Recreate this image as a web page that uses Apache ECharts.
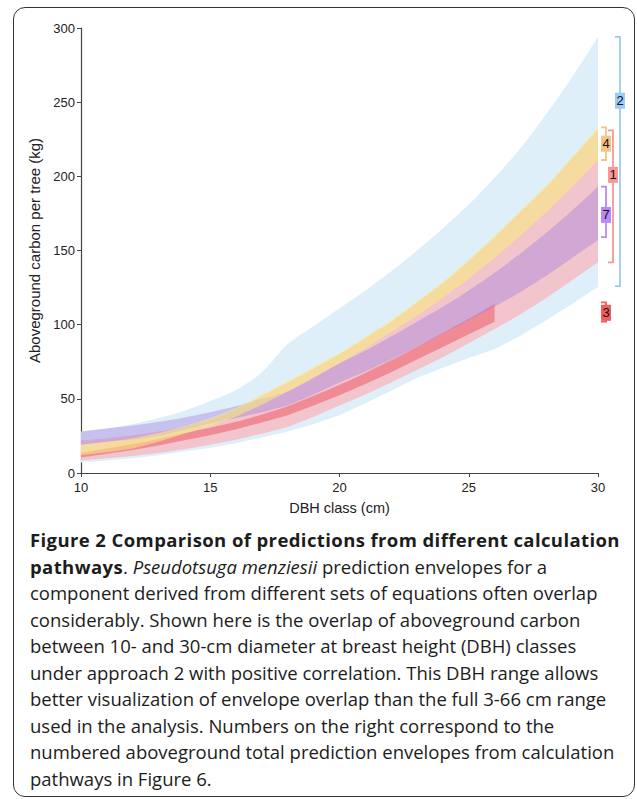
<!DOCTYPE html>
<html>
<head>
<meta charset="utf-8">
<script src="https://cdn.jsdelivr.net/npm/echarts@6.0.0/dist/echarts.min.js"></script>
<style>
  body { margin: 0; background: #fff; }
  #chart { position: absolute; left: 0; top: 0; width: 637px; height: 799px; }
  #frame { position: absolute; left: 13px; top: 7px; width: 620px; height: 788px;
           border: 1.5px solid #333; border-radius: 12px; pointer-events: none; }
  #caption { position: absolute; left: 30px; top: 527px; font-family: "Open Sans", sans-serif;
             font-size: 18.5px; line-height: 26.5px; color: #1c1c1c; white-space: nowrap; }
  #caption b { letter-spacing: 0.4px; }
</style>
</head>
<body>
<div id="chart"></div>
<div id="frame"></div>
<div id="caption">
  <b>Figure 2 Comparison of predictions from different calculation</b><br>
  <b>pathways</b>. <i>Pseudotsuga menziesii</i> prediction envelopes for a<br>
  component derived from different sets of equations often overlap<br>
  considerably. Shown here is the overlap of aboveground carbon<br>
  between 10- and 30-cm diameter at breast height (DBH) classes<br>
  under approach 2 with positive correlation. This DBH range allows<br>
  better visualization of envelope overlap than the full 3-66 cm range<br>
  used in the analysis. Numbers on the right correspond to the<br>
  numbered aboveground total prediction envelopes from calculation<br>
  pathways in Figure 6.
</div>
<script>
// DBH classes (cm)
var dbh = [10, 11, 12, 13, 14, 15, 16, 17, 18, 19, 20, 21, 22, 23, 24, 25, 26, 27, 28, 29, 30];

// envelope 2 (blue)
var env2Low  = [7, 8.5, 10, 12, 14.5, 17, 20, 24, 28, 33, 39, 47, 55.5, 64, 71, 77.5, 83.5, 92.5, 103, 114, 125.5];
var env2High = [28, 30, 33, 37, 42, 48.5, 56, 68, 87, 99, 111, 123, 136, 150, 165, 181, 199, 219, 242, 267, 294];
// envelope 1 (pink)
var env1Low  = [8.5, 10, 11.5, 13.5, 16, 19, 22.5, 26.5, 31, 38, 45.5, 53, 61, 69.5, 78, 87.5, 97, 107, 118, 130, 142];
var env1High = [22, 23.5, 25.5, 28, 31, 36, 43, 52, 61, 70.5, 80, 91, 102, 115, 128, 143, 159, 176, 193, 212, 231.5];
// envelope 3 (red), stops at 26 cm
var env3Low  = [10.5, 13, 15.5, 18.5, 22, 25.5, 29.5, 34, 39, 45.5, 52.5, 60, 68, 76.5, 85, 93.5, 102];
var env3High = [13.5, 16.5, 19.5, 23, 27, 30.5, 34.5, 39.5, 45, 52, 59.5, 67.5, 76, 85, 94.5, 104, 114];
// envelope 7 (purple)
var env7Low  = [19, 21, 22.5, 25, 29, 33.5, 37, 41, 45.5, 53, 61, 68.5, 76.5, 85, 94, 103, 112, 122, 133, 145, 157];
var env7High = [28, 30, 32, 34.5, 37.5, 41, 45, 50, 55, 64, 74, 82.5, 92, 102, 112, 123, 135, 148, 162, 177, 193];
// envelope 4 (yellow)
var env4Low  = [12, 14, 16.5, 21, 26.5, 31.5, 38, 46, 55, 64.5, 74, 84, 95, 106, 118, 131, 145, 160, 176, 193, 211];
var env4High = [19, 21, 23.5, 27, 31.5, 37, 44, 53, 62, 71.5, 81, 92, 103, 116, 129, 144, 160, 177, 194, 213, 233];

// right-hand brackets
var bracketNames = ['2', '1', '4', '7', '3'];
var bracketLow   = [126, 142, 211, 159, 102];
var bracketHigh  = [294, 231, 233, 193, 115];
var bracketLabel = [251, 201, 222, 174, 108];

var axisFont = '"Liberation Sans", Arial, sans-serif';

function diffs(lo, hi) {
    return hi.map(function (v, i) { return v - lo[i]; });
}

// an envelope = invisible lower line + stacked filled thickness
function band(name, lo, hi, color) {
    return [{
        name: name + '-base',
        type: 'line',
        stack: 'env' + name,
        data: lo,
        symbol: 'none',
        silent: true,
        lineStyle: { opacity: 0 }
    }, {
        name: name,
        type: 'line',
        stack: 'env' + name,
        data: diffs(lo, hi),
        symbol: 'none',
        smooth: 0.3,
        silent: true,
        lineStyle: { opacity: 0 },
        areaStyle: { color: color, opacity: 1 }
    }];
}

var bracketColors = ['#9ccbf7', '#fa9797', '#f8c283', '#b98af5', '#f25c5c'];
var bracketOffset = [22, 15, 8, 8, 8];

var mychart = echarts.init(document.getElementById('chart'), null, { renderer: 'svg' });

var series = [].concat(
    band('2', env2Low, env2High, '#dfeffa'),
    band('1', env1Low, env1High, '#f2c4cc'),
    band('3', env3Low, env3High, 'rgba(238,70,85,0.45)'),
    band('7', env7Low, env7High, 'rgba(160,125,222,0.4)'),
    band('4', env4Low, env4High, 'rgba(247,238,124,0.56)')
);

series.push({
    type: 'custom',
    clip: false,
    silent: true,
    data: bracketNames.map(function (n, i) {
        return [dbh.length - 1, bracketLow[i], bracketHigh[i], bracketLabel[i]];
    }),
    renderItem: function (params, api) {
        var i = params.dataIndex;
        var end = api.value(0);
        var top = api.coord([end, api.value(2)]);
        var bot = api.coord([end, api.value(1)]);
        var lab = api.coord([end, api.value(3)]);
        var x = top[0] + bracketOffset[i];
        var c = bracketColors[i];
        return {
            type: 'group',
            children: [{
                type: 'polyline',
                shape: { points: [[x - 5, top[1]], [x, top[1]], [x, bot[1]], [x - 5, bot[1]]] },
                style: { stroke: c, fill: null, lineWidth: 1.8 }
            }, {
                type: 'rect',
                shape: { x: x - 5, y: lab[1] - 8, width: 10, height: 16 },
                style: { fill: c }
            }, {
                type: 'text',
                style: {
                    text: bracketNames[i], x: x, y: lab[1],
                    align: 'center', verticalAlign: 'middle',
                    fontSize: 13, fontFamily: axisFont, fill: '#111'
                }
            }]
        };
    }
});

mychart.setOption({
    animation: false,
    grid: { left: 81, right: 39, top: 28, bottom: 326 },
    xAxis: {
        type: 'category',
        data: dbh,
        boundaryGap: false,
        name: 'DBH class (cm)',
        nameLocation: 'middle',
        nameGap: 27,
        nameTextStyle: { fontSize: 14.5, fontFamily: axisFont, color: '#222' },
        axisLine: { lineStyle: { color: '#444', width: 1.2 } },
        axisTick: { length: 4, interval: 4, lineStyle: { color: '#444' } },
        axisLabel: { interval: 4, fontSize: 13, fontFamily: axisFont, color: '#222', margin: 8 },
        splitLine: { show: false }
    },
    yAxis: {
        type: 'value',
        min: 0,
        max: 300,
        interval: 50,
        name: 'Aboveground carbon per tree (kg)',
        nameLocation: 'middle',
        nameGap: 37,
        nameTextStyle: { fontSize: 15, fontFamily: axisFont, color: '#222' },
        axisLine: { show: true, lineStyle: { color: '#444', width: 1.2 } },
        axisTick: { show: true, length: 4, lineStyle: { color: '#444' } },
        axisLabel: { fontSize: 13, fontFamily: axisFont, color: '#222', margin: 6 },
        splitLine: { show: false }
    },
    series: series
});
</script>
</body>
</html>
